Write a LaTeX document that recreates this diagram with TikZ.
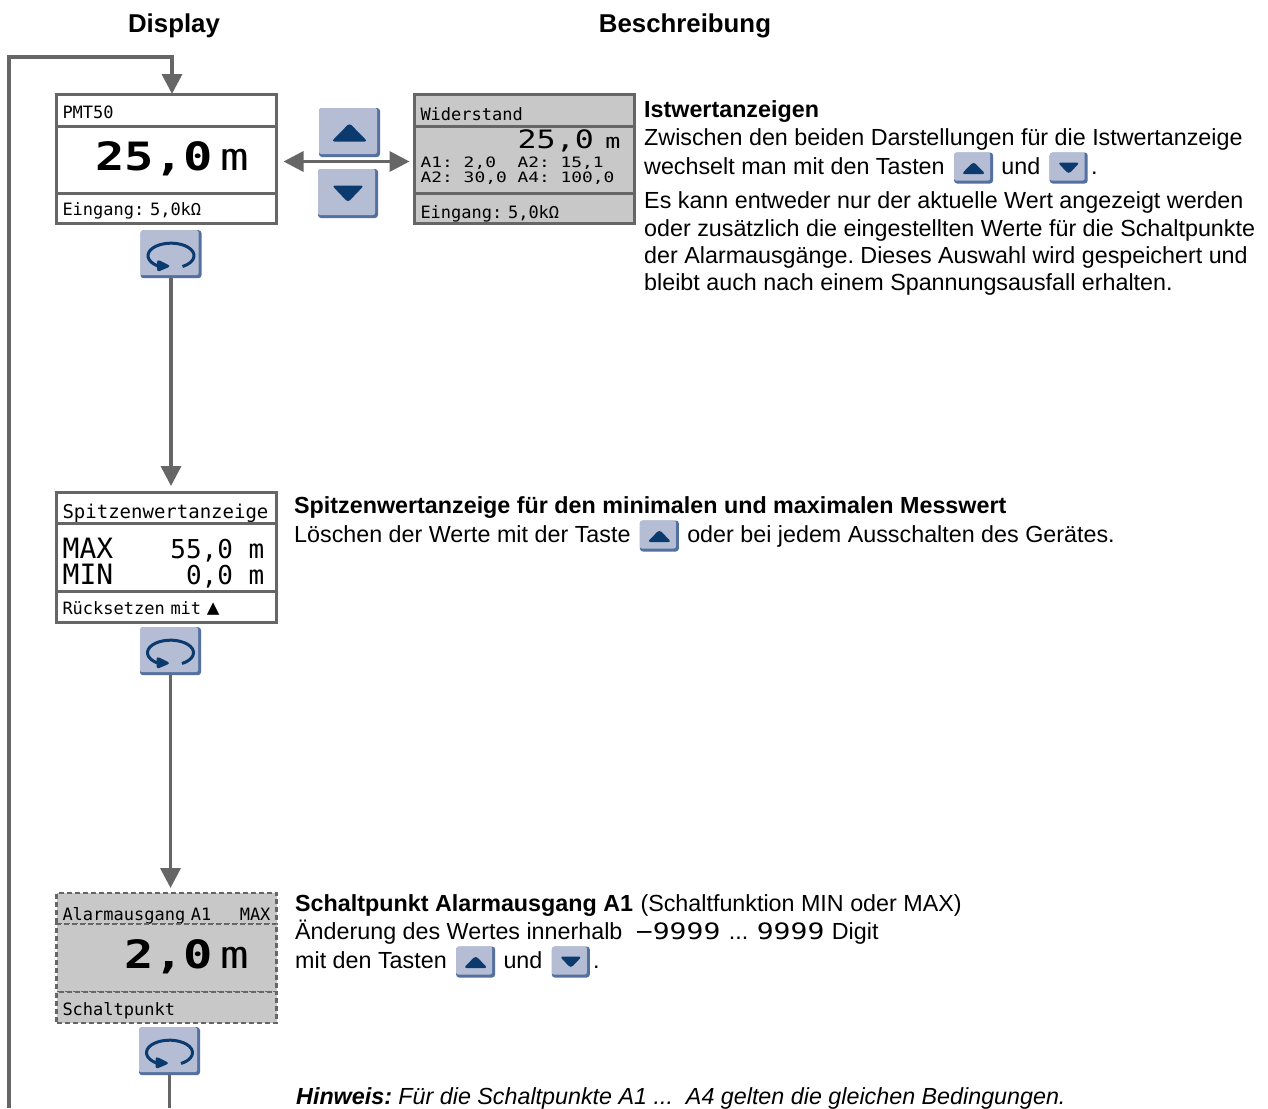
\documentclass[tikz,border=0pt]{standalone}
\usepackage{fontspec}
\setmainfont{Liberation Sans}
\newfontfamily\lcdfont{DejaVu Sans Mono}
\newfontfamily\lcdwide[FakeStretch=1.25]{DejaVu Sans Mono}
\usetikzlibrary{positioning,calc,arrows.meta}
\definecolor{linegray}{RGB}{102, 102, 102}
\definecolor{lcdgray}{RGB}{200, 200, 200}
\definecolor{keyface}{RGB}{180, 189, 212}
\definecolor{keyedge}{RGB}{84, 112, 160}
\definecolor{keymark}{RGB}{10, 58, 110}
\newcommand{\lcdsize}[1]{\fontsize{#1}{#1}\lcdfont}
\newcommand{\widesize}[1]{\fontsize{#1}{#1}\lcdwide}
\newcommand{\bodysize}{\fontsize{23.3}{28}\selectfont\frenchspacing}
\tikzstyle{lcdrow} = [rectangle, draw=linegray, line width=3pt, outer sep=0pt, inner ysep=0pt, inner xsep=6pt, text width=208pt, align=left, text=black, text height=15pt, text depth=1pt, font=\lcdsize{17}\frenchspacing]
\tikzstyle{lcdgrayrow} = [lcdrow, fill=lcdgray]
\tikzstyle{lcddash} = [lcdgrayrow, dash pattern=on 5pt off 3pt, line width=2.5pt]
\tikzstyle{lcdtext} = [inner sep=0pt, anchor=base west, text=black, text height=10pt, text depth=0pt]
\tikzstyle{tedge} = [draw=linegray, line width=3.5pt, >={Triangle[length=20pt,width=20pt]}, ->]
\tikzstyle{bodytext} = [inner sep=0pt, text height=17pt, text depth=5pt, font=\bodysize, text=black]
\tikzstyle{headtext} = [inner sep=0pt, anchor=base, font=\fontsize{25.8}{30}\selectfont\bfseries, text=black]
\tikzstyle{keybase} = [rectangle, rounded corners=3pt, fill=keyedge, inner sep=0pt, path picture={
  \fill[keyface, rounded corners=2pt] ([yshift=3pt]path picture bounding box.south west) rectangle ([xshift=-3pt]path picture bounding box.north east);}]
\tikzstyle{upkey}[18] = [keybase, postaction={path picture={
  \fill[keymark] ($(path picture bounding box.center)+(-#1,0.5*#1)$) -- ($(path picture bounding box.center)+(#1,0.5*#1)$) -- ($(path picture bounding box.center)+(0,-0.52*#1)$) -- cycle;}}]
\tikzstyle{downkey}[16] = [keybase, postaction={path picture={
  \fill[keymark] ($(path picture bounding box.center)+(-#1,-0.5*#1)$) -- ($(path picture bounding box.center)+(#1,-0.5*#1)$) -- ($(path picture bounding box.center)+(0,0.55*#1)$) -- cycle;}}]
\tikzstyle{smallup} = [upkey=12, minimum width=39pt, minimum height=31pt]
\tikzstyle{smalldown} = [downkey=11, minimum width=38pt, minimum height=31pt]
\tikzstyle{loopkey} = [keybase, minimum width=61pt, minimum height=48pt, postaction={path picture={
  \draw[keymark, line width=3pt] ($(path picture bounding box.center)+(11.5,12.3)$) arc[start angle=-60, end angle=250, x radius=23pt, y radius=12.5pt];
  \fill[keymark] ($(path picture bounding box.center)+(-14,5)$) -- ($(path picture bounding box.center)+(0,12)$) -- ($(path picture bounding box.center)+(-14,18)$) -- cycle;}}]

\begin{document}
\begin{tikzpicture}[x=1pt, y=-1pt]
\useasboundingbox (0,0) rectangle (1268,1108);
\fill[white] (0,0) rectangle (1268,1108);

% titles
\node[headtext] (titledisplay) at (174,33) {Display};
\node[headtext] (titletext) at (685,33) {Beschreibung};

% display 1
\node[lcdrow, minimum height=32pt, text height=17pt] (pmthead) at (166.5,110) {PMT50};
\node[lcdrow, minimum height=67pt, text height=23pt, below=0pt of pmthead] (pmtmain) {\hfill{\widesize{39}\bfseries 25,0}\hspace{8pt}{\widesize{38}m}\hspace*{21pt}};
\node[lcdrow, minimum height=30pt, below=0pt of pmtmain] (pmtfoot) {Eingang: 5,0kΩ};

% display 1, second view
\node[lcdgrayrow, minimum height=32pt, text height=21pt, right=138pt of pmthead] (widhead) {Widerstand};
\node[lcdgrayrow, minimum height=67pt, below=0pt of widhead] (widmain) {};
\node[lcdgrayrow, minimum height=30pt, text height=21pt, below=0pt of widmain] (widfoot) {Eingang: 5,0kΩ};
\node[lcdtext, font=\widesize{25.3}] (widvalue) at ($(widmain.north west)+(103,22)$) {25,0};
\node[lcdtext, font=\widesize{20}, right=11pt of widvalue.base east, anchor=base west] (widunit) {m};
\node[lcdtext, font=\widesize{14.3}\frenchspacing] (widline1) at ($(widmain.north west)+(6,41)$) {A1: 2,0\ \ A2: 15,1};
\node[lcdtext, font=\widesize{14.3}\frenchspacing] (widline2) at ($(widmain.north west)+(6,56)$) {A2: 30,0 A4: 100,0};

% display 2
\node[lcdrow, minimum height=31pt, text height=22pt, font=\lcdsize{19}] (peakhead) at (166.5,507.5) {Spitzenwertanzeige};
\node[lcdrow, minimum height=68pt, below=0pt of peakhead] (peakmain) {};
\node[lcdrow, minimum height=31pt, text height=17pt, below=0pt of peakmain] (peakfoot) {Rücksetzen mit {\lcdsize{21}▲}};
\node[lcdtext, font=\lcdsize{28}] (peakmax) at ($(peakmain.north west)+(6,35)$) {MAX};
\node[lcdtext, font=\lcdsize{28}] (peakmin) at ($(peakmain.north west)+(6,61)$) {MIN};
\node[lcdtext, font=\lcdsize{26}, anchor=base east] (peakmaxval) at ($(peakmain.north east)+(-12,35)$) {55,0 m};
\node[lcdtext, font=\lcdsize{26}, anchor=base east] (peakminval) at ($(peakmain.north east)+(-12,61)$) {0,0 m};

% display 3
\node[lcddash, minimum height=31pt, text height=24pt] (alarmhead) at (166.5,908.5) {Alarmausgang A1\hfill MAX};
\node[lcddash, minimum height=68pt, text height=21pt, below=0pt of alarmhead] (alarmmain) {\hfill{\widesize{39}\bfseries 2,0}\hspace{8pt}{\widesize{38}m}\hspace*{21pt}};
\node[lcddash, minimum height=31pt, text height=17pt, below=0pt of alarmmain] (alarmfoot) {Schaltpunkt};

% keys
\node[upkey, minimum width=61pt, minimum height=49pt] (keyup) at (349.5,132.5) {};
\node[downkey, minimum width=60pt, minimum height=49pt] (keydown) at (348,193.5) {};
\node[loopkey, below=7pt of pmtfoot, xshift=4.5pt] (loop1) {};
\node[loopkey, below=5pt of peakfoot, xshift=4pt] (loop2) {};
\node[loopkey, below=4pt of alarmfoot, xshift=3pt] (loop3) {};

% text =============================
\node[bodytext, anchor=base west, font=\bodysize\bfseries] (ist0) at (644,117) {Istwertanzeigen};
\node[bodytext, anchor=base west] (ist1) at (644,145) {Zwischen den beiden Darstellungen für die Istwertanzeige};
\node[bodytext, anchor=base west] (ist2) at (644,174) {wechselt man mit den Tasten};
\node[smallup, right=9pt of ist2] (ist2up) {};
\node[bodytext, right=8pt of ist2up] (ist2und) {und};
\node[smalldown, right=9pt of ist2und] (ist2down) {};
\node[bodytext, right=3pt of ist2down] (ist2end) {.};
\node[bodytext, anchor=base west] (ist3) at (644,208) {Es kann entweder nur der aktuelle Wert angezeigt werden};
\node[bodytext, anchor=base west] (ist4) at (644,236) {oder zusätzlich die eingestellten Werte für die Schaltpunkte};
\node[bodytext, anchor=base west] (ist5) at (644,263) {der Alarmausgänge. Dieses Auswahl wird gespeichert und};
\node[bodytext, anchor=base west] (ist6) at (644,290) {bleibt auch nach einem Spannungsausfall erhalten.};

\node[bodytext, anchor=base west, font=\bodysize\bfseries] (peak0) at (294,513) {Spitzenwertanzeige für den minimalen und maximalen Messwert};
\node[bodytext, anchor=base west] (peak1) at (294,542) {Löschen der Werte mit der Taste};
\node[smallup, right=9pt of peak1] (peak1up) {};
\node[bodytext, right=8pt of peak1up] (peak1end) {oder bei jedem Ausschalten des Gerätes.};

\node[bodytext, anchor=base west, font=\bodysize\bfseries] (alarm0) at (295,911) {Schaltpunkt Alarmausgang A1};
\node[bodytext, right=7pt of alarm0] (alarm0b) {(Schaltfunktion MIN oder MAX)};
\node[bodytext, anchor=base west] (alarm1) at (295,939) {Änderung des Wertes innerhalb};
\node[bodytext, right=13pt of alarm1, font=\widesize{22.5}] (alarm1min) {−9999};
\node[bodytext, right=8pt of alarm1min] (alarm1dots) {...};
\node[bodytext, right=8pt of alarm1dots, font=\widesize{22.5}] (alarm1max) {9999};
\node[bodytext, right=7pt of alarm1max] (alarm1end) {Digit};
\node[bodytext, anchor=base west] (alarm2) at (295,968) {mit den Tasten};
\node[smallup, right=9pt of alarm2] (alarm2up) {};
\node[bodytext, right=8pt of alarm2up] (alarm2und) {und};
\node[smalldown, right=9pt of alarm2und] (alarm2down) {};
\node[bodytext, right=3pt of alarm2down] (alarm2end) {.};
\node[bodytext, anchor=base west, font=\bodysize\itshape] (hint) at (296,1104) {\textbf{Hinweis:} Für die Schaltpunkte A1 ...\ \ A4 gelten die gleichen Bedingungen.};

%edges
\coordinate (backstart) at (9,1108);
\coordinate (backturn) at (9,57);
\coordinate (backend) at ($(pmthead.north)+(5.5,0)$);
\coordinate (loopend) at (loop3.south |- backstart);
\path[tedge] (backstart) -- (backturn) -| (backend);
\path[tedge, shorten >=6pt] (loop1.south) -- (loop1.south |- peakhead.north);
\path[tedge, shorten >=5pt] (loop2.south) -- (loop2.south |- alarmhead.north);
\path[draw=linegray, line width=3.5pt] (loop3.south) -- (loopend);
\path[tedge, <->, shorten >=5pt, shorten <=7pt] ([yshift=-2pt]pmtmain.east) -- ([yshift=-2pt]widmain.west);
\end{tikzpicture}
\end{document}
